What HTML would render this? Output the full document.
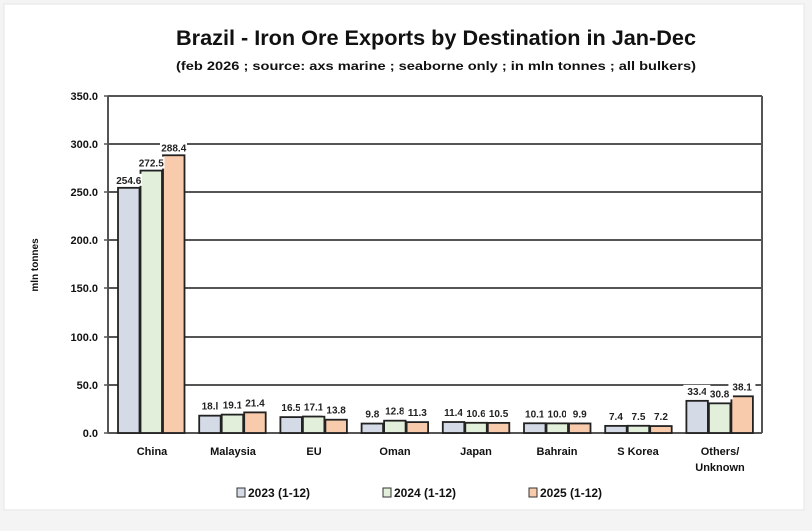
<!DOCTYPE html>
<html><head><meta charset="utf-8"><style>
html,body{margin:0;padding:0;background:#fff;}
svg{display:block;font-family:"Liberation Sans",sans-serif;}
</style></head><body>
<svg width="812" height="531" viewBox="0 0 812 531" xmlns="http://www.w3.org/2000/svg">
<rect x="0" y="0" width="812" height="531" fill="#f4f4f4"/>
<rect x="4" y="4" width="800" height="506" fill="#fff" stroke="#e6e6e6"/>
<text x="436" y="45" font-size="21" font-weight="bold" text-anchor="middle" textLength="520" lengthAdjust="spacingAndGlyphs" fill="#111">Brazil - Iron Ore Exports by Destination in Jan-Dec</text>
<text x="436" y="70" font-size="12" font-weight="bold" text-anchor="middle" textLength="520" lengthAdjust="spacingAndGlyphs" fill="#111">(feb 2026 ; source: axs marine ; seaborne only ; in mln tonnes ; all bulkers)</text>
<g stroke="#555" stroke-width="2">
<line x1="108" y1="96" x2="762" y2="96"/><line x1="108" y1="144" x2="762" y2="144"/>
<line x1="108" y1="192" x2="762" y2="192"/><line x1="108" y1="240" x2="762" y2="240"/>
<line x1="108" y1="288" x2="762" y2="288"/><line x1="108" y1="337" x2="762" y2="337"/>
<line x1="108" y1="385" x2="762" y2="385"/>
<line x1="762" y1="96" x2="762" y2="433"/>
<line x1="108" y1="96" x2="108" y2="433"/>
<line x1="108" y1="433" x2="762" y2="433"/>
</g>
<g stroke="#555" stroke-width="1.5">
<line x1="104" y1="96" x2="108" y2="96"/><line x1="104" y1="144" x2="108" y2="144"/><line x1="104" y1="192" x2="108" y2="192"/><line x1="104" y1="240" x2="108" y2="240"/><line x1="104" y1="288" x2="108" y2="288"/><line x1="104" y1="337" x2="108" y2="337"/><line x1="104" y1="385" x2="108" y2="385"/><line x1="104" y1="433" x2="108" y2="433"/>
</g>
<g font-size="11" font-weight="bold" text-anchor="end" fill="#111">
<text x="98" y="100">350.0</text><text x="98" y="148">300.0</text><text x="98" y="196">250.0</text><text x="98" y="244">200.0</text><text x="98" y="292">150.0</text><text x="98" y="341">100.0</text><text x="98" y="389">50.0</text><text x="98" y="437">0.0</text>
</g>
<text transform="translate(38,265) rotate(-90)" font-size="10" font-weight="bold" text-anchor="middle" fill="#111">mln tonnes</text>
<g id="bars" stroke="#222" stroke-width="1.8"></g>
<g id="labels" font-size="10" font-weight="bold" text-anchor="middle" fill="#222"></g>
<g font-size="11" font-weight="bold" text-anchor="middle" fill="#111">
<text x="152" y="455">China</text><text x="233" y="455">Malaysia</text><text x="314" y="455">EU</text><text x="395" y="455">Oman</text><text x="476" y="455">Japan</text><text x="557" y="455">Bahrain</text><text x="638" y="455">S Korea</text><text x="720" y="455">Others/</text><text x="720" y="471">Unknown</text>
</g>
<g font-size="12" font-weight="bold" fill="#111" stroke="#333" stroke-width="1">
<rect x="237" y="488" width="8" height="9" fill="#d5dbe6"/>
<rect x="383" y="488" width="8" height="9" fill="#e2efda"/>
<rect x="529" y="488" width="8" height="9" fill="#f8cbad"/>
</g>
<g font-size="12" font-weight="bold" fill="#111">
<text x="248" y="497">2023 (1-12)</text><text x="394" y="497">2024 (1-12)</text><text x="540" y="497">2025 (1-12)</text>
</g>
<script>
var d=[[254.6,272.5,288.4],[18.0,19.1,21.4],[16.5,17.1,13.8],[9.8,12.8,11.3],[11.4,10.6,10.5],[10.1,10.0,9.9],[7.4,7.5,7.2],[33.4,30.8,38.1]];
var L=[["254.6","272.5","288.4"],["18.l","19.1","21.4"],["16.5","17.1","13.8"],["9.8","12.8","11.3"],["11.4","10.6","10.5"],["10.1","10.0","9.9"],["7.4","7.5","7.2"],["33.4","30.8","38.1"]];
var c=["#d5dbe6","#e2efda","#f8cbad"],ns="http://www.w3.org/2000/svg";
var B=document.getElementById("bars"),T=document.getElementById("labels");
for(var i=0;i<8;i++){var cx=151+i*81.2;for(var j=0;j<3;j++){var h=d[i][j]*0.963,x=cx-33+j*22.5;
var r=document.createElementNS(ns,"rect");r.setAttribute("x",x);r.setAttribute("y",433-h);r.setAttribute("width",21.5);r.setAttribute("height",h);r.setAttribute("fill",c[j]);B.appendChild(r);
var ty=433-h-6; if(i==0){ty=433-h-4;}
var bg=document.createElementNS(ns,"rect");bg.setAttribute("x",x-3);bg.setAttribute("y",ty-10);bg.setAttribute("width",27);bg.setAttribute("height",12);bg.setAttribute("fill","#fff");T.appendChild(bg);
var t=document.createElementNS(ns,"text");t.setAttribute("x",x+10.75);t.setAttribute("y",ty);t.textContent=L[i][j];T.appendChild(t);}}
</script>
</svg>
</body></html>
